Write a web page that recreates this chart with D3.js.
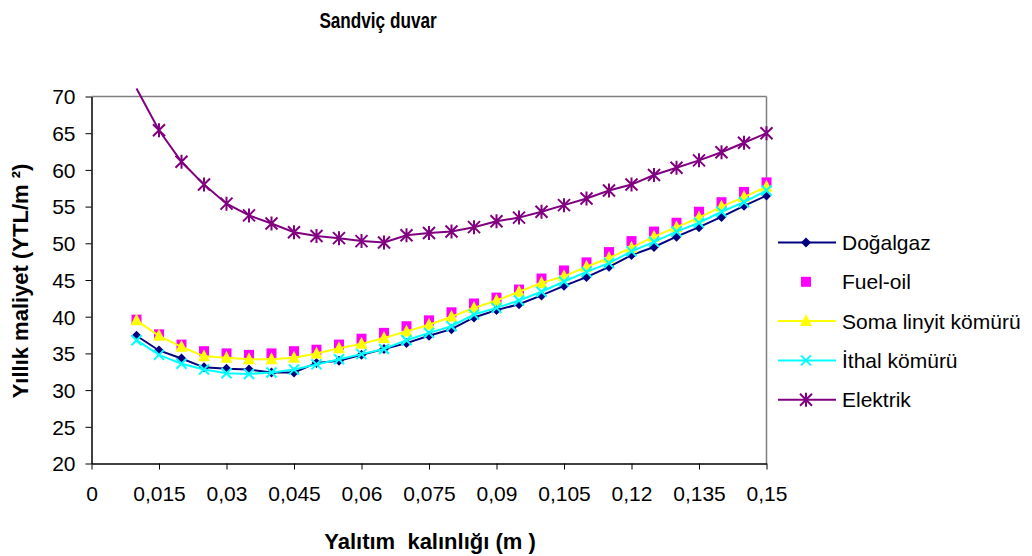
<!DOCTYPE html>
<html><head><meta charset="utf-8">
<script src="https://cdn.jsdelivr.net/npm/d3@7"></script>
<style>body{margin:0;background:#fff}svg{display:block}text{font-family:Arial,"Liberation Sans",sans-serif}</style>
</head><body>
<svg id="c" width="1032" height="556"></svg>
<script>
const xValues = [0.01,0.015,0.02,0.025,0.03,0.035,0.04,0.045,0.05,0.055,0.06,0.065,0.07,0.075,0.08,0.085,0.09,0.095,0.1,0.105,0.11,0.115,0.12,0.125,0.13,0.135,0.14,0.145,0.15];
const dogalgaz = [37.4,35.4,34.3,33.1,32.9,32.8,32.4,32.4,33.7,34.0,34.8,35.6,36.4,37.4,38.3,39.9,40.9,41.7,42.9,44.2,45.4,46.8,48.4,49.5,50.9,52.2,53.6,55.1,56.5];
const fuelOil = [39.6,37.6,36.2,35.3,35.0,34.8,35.0,35.3,35.5,36.2,37.0,37.8,38.7,39.5,40.6,41.8,42.6,43.7,45.2,46.3,47.4,48.8,50.3,51.6,52.8,54.3,55.6,57.0,58.3];
const soma = [39.5,37.4,35.9,34.6,34.4,34.2,34.2,34.4,35.0,35.7,36.3,37.1,38.0,38.9,40.0,41.2,42.2,43.4,44.6,45.5,46.8,48.0,49.4,50.9,52.2,53.5,55.0,56.3,57.7];
const ithal = [36.8,34.8,33.6,32.8,32.3,32.2,32.4,32.8,33.5,34.2,34.9,35.6,36.8,37.8,38.7,40.3,41.2,42.2,43.4,44.8,46.1,47.3,48.9,50.2,51.6,52.8,54.3,55.6,57.2];
const elektrik = [71.1,65.4,61.1,58.0,55.4,53.8,52.7,51.5,51.0,50.7,50.3,50.1,51.1,51.4,51.6,52.2,53.0,53.5,54.3,55.2,56.1,57.2,58.0,59.3,60.3,61.3,62.4,63.7,65.0];
const seriesNames = ["Doğalgaz","Fuel-oil","Soma linyit kömürü","İthal kömürü","Elektrik"];
const xTicks = [0,0.015,0.03,0.045,0.06,0.075,0.09,0.105,0.12,0.135,0.15];
const yTicks = [20,25,30,35,40,45,50,55,60,65,70];
const title = "Sandviç duvar";
const xTitle = "Yalıtım  kalınlığı (m )";
const yTitle = "Yıllık maliyet (YTL/m ²)";

const series = [
  {name: seriesNames[0], values: dogalgaz, color: "#000080", line: true, marker: "diamond"},
  {name: seriesNames[1], values: fuelOil, color: "#FF00FF", line: false, marker: "square"},
  {name: seriesNames[2], values: soma, color: "#FFFF00", line: true, marker: "triangle"},
  {name: seriesNames[3], values: ithal, color: "#00FFFF", line: true, marker: "x"},
  {name: seriesNames[4], values: elektrik, color: "#800080", line: true, marker: "star"}
];

const svg = d3.select("#c");
const L = 91.5, R = 766.5, T = 96.5, B = 463.5;
const x = d3.scaleLinear().domain([0, 0.15]).range([L, R]);
const y = d3.scaleLinear().domain([20, 70]).range([B, T]);

svg.append("line").attr("x1", L).attr("x2", R).attr("y1", T).attr("y2", T).attr("stroke", "#808080").attr("stroke-width", 1.5);
svg.append("line").attr("x1", R).attr("x2", R).attr("y1", T).attr("y2", B).attr("stroke", "#808080").attr("stroke-width", 1.5);

const fmt = d => String(d).replace(".", ",");
const xAxis = svg.append("g").attr("transform", `translate(0,${B})`)
  .call(d3.axisBottom(x).tickValues(xTicks).tickFormat(fmt).tickSize(6).tickPadding(17).tickSizeOuter(0));
const yAxis = svg.append("g").attr("transform", `translate(${L},0)`)
  .call(d3.axisLeft(y).tickValues(yTicks).tickSize(6).tickPadding(10).tickSizeOuter(0));
[xAxis, yAxis].forEach(g => {
  g.select(".domain").attr("stroke", "#000").attr("stroke-width", 1.5);
  g.selectAll(".tick line").attr("stroke", "#000").attr("stroke-width", 1);
  g.selectAll(".tick text").attr("fill", "#000").style("font-size", "21px").style("font-family", "Arial, 'Liberation Sans', sans-serif");
});
yAxis.selectAll(".tick text").attr("dy", "0.35em");

function drawMarker(g, type, cx, cy, color) {
  const s = 5;
  if (type === "diamond") {
    g.append("path").attr("d", `M${cx},${cy-s}L${cx+s},${cy}L${cx},${cy+s}L${cx-s},${cy}Z`).attr("fill", color);
  } else if (type === "square") {
    g.append("rect").attr("x", cx-5).attr("y", cy-5).attr("width", 10).attr("height", 10).attr("fill", color);
  } else if (type === "triangle") {
    g.append("path").attr("d", `M${cx},${cy-7}L${cx+6},${cy+5}L${cx-6},${cy+5}Z`).attr("fill", color);
  } else if (type === "x") {
    g.append("path").attr("d", `M${cx-5},${cy-5}L${cx+5},${cy+5}M${cx-5},${cy+5}L${cx+5},${cy-5}`).attr("stroke", color).attr("stroke-width", 2);
  } else if (type === "star") {
    g.append("path").attr("d", `M${cx-6},${cy-6}L${cx+6},${cy+6}M${cx-6},${cy+6}L${cx+6},${cy-6}M${cx},${cy-7}L${cx},${cy+7}`).attr("stroke", color).attr("stroke-width", 2);
  }
}

const lineGen = d3.line().x(d => x(d[0])).y(d => y(d[1]));
series.forEach(s => {
  const pts = xValues.map((xv, i) => [xv, s.values[i]]);
  const g = svg.append("g");
  if (s.line) {
    g.append("path").attr("d", lineGen(pts)).attr("fill", "none").attr("stroke", s.color).attr("stroke-width", 2);
  }
  pts.forEach(p => { if (p[1] <= 70) drawMarker(g, s.marker, x(p[0]), y(p[1]), s.color); });
});

const lg = svg.append("g");
series.forEach((s, i) => {
  const cy = 242.5 + i * 39.3;
  if (s.line) lg.append("line").attr("x1", 778).attr("x2", 836).attr("y1", cy).attr("y2", cy).attr("stroke", s.color).attr("stroke-width", 2);
  drawMarker(lg, s.marker, 806, cy, s.color);
  lg.append("text").attr("x", 842).attr("y", cy).attr("dy", "0.36em").style("font-size", "21px").attr("fill", "#000").text(s.name);
});

svg.append("text").attr("transform", "translate(378,27.5) scale(0.78,1)").attr("text-anchor", "middle").style("font-size", "22px").style("font-weight", "bold").text(title);
svg.append("text").attr("x", 430).attr("y", 549).attr("text-anchor", "middle").style("font-size", "22px").style("font-weight", "bold").style("white-space", "pre").text(xTitle);
svg.append("text").attr("transform", "translate(28,281) rotate(-90)").attr("text-anchor", "middle").style("font-size", "22px").style("font-weight", "bold").text(yTitle);
</script>
</body></html>
